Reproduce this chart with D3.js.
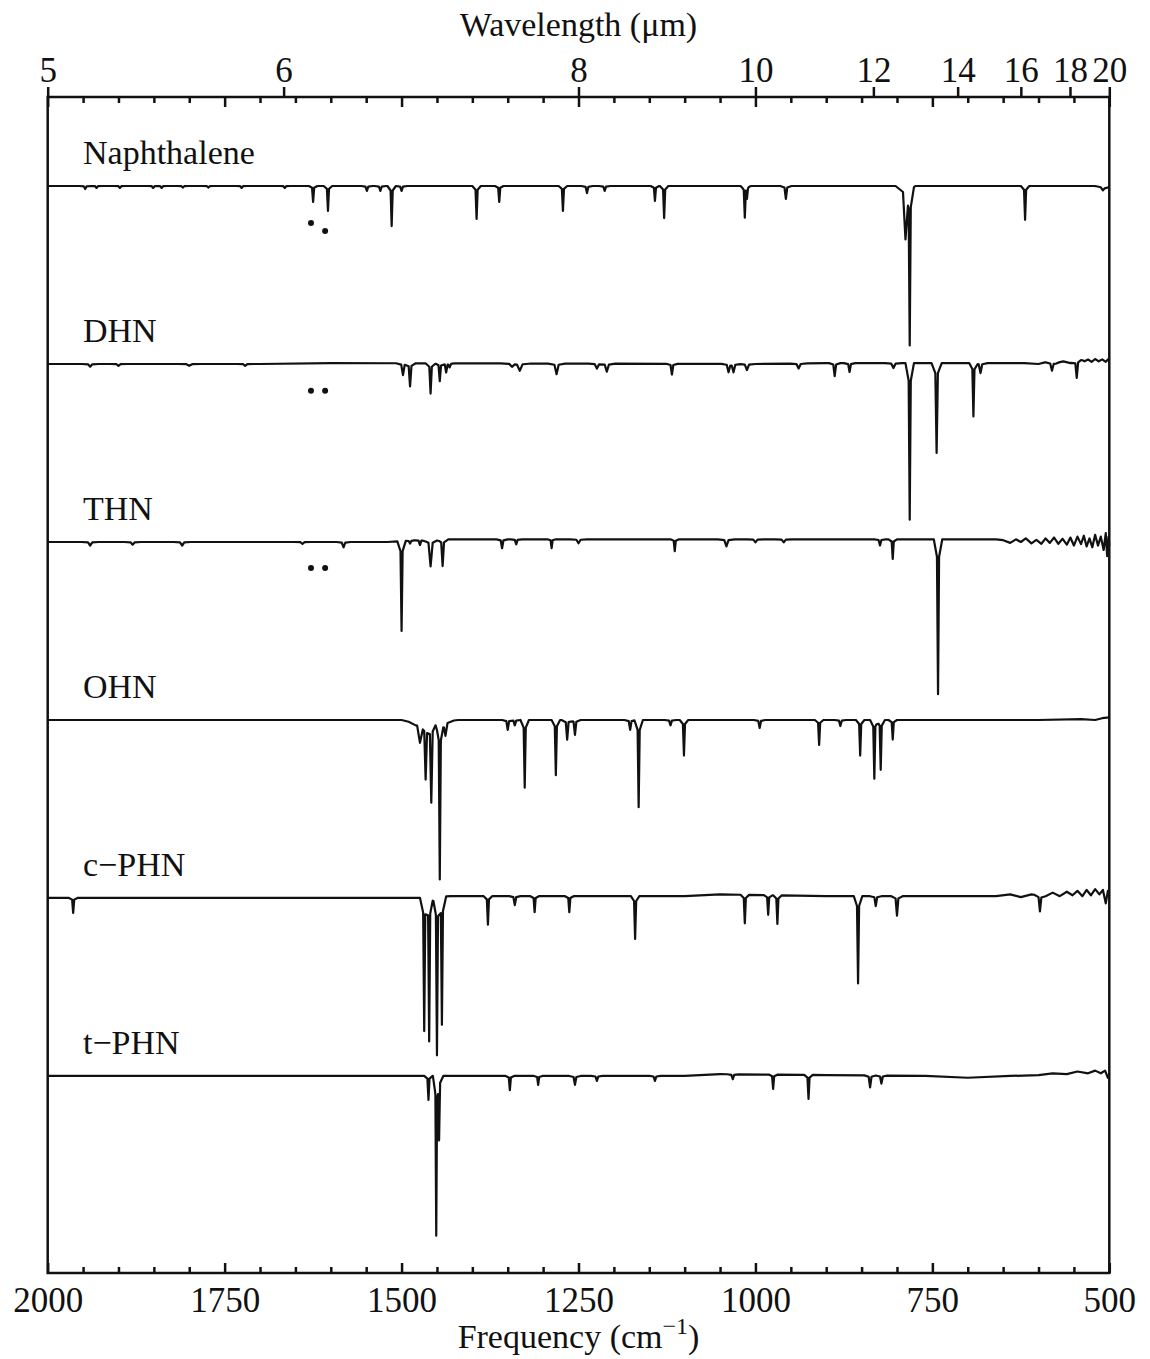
<!DOCTYPE html>
<html>
<head>
<meta charset="utf-8">
<script src="https://cdn.jsdelivr.net/npm/d3@7"></script>
<style>
  html, body { margin: 0; padding: 0; background: #fff; }
  svg text { font-family: "Liberation Serif", "Times New Roman", serif; fill: #111; }
</style>
</head>
<body>
<svg id="chart" width="1150" height="1359"></svg>
<script>
// ---------------- data ----------------
const seriesNames = ["Naphthalene", "DHN", "THN", "OHN", "c\u2212PHN", "t\u2212PHN"];
// track baseline offsets (a.u., one track = 100)
const trackOffsets = [50, 150, 250, 350, 450, 550];

const freqMajorTicks = [2000, 1750, 1500, 1250, 1000, 750, 500];
const wavelengthTicks = [5, 6, 8, 10, 12, 14, 16, 18, 20];

// peaks: [frequency cm-1, depth (a.u.), half width cm-1]
const naphPeaks = [
  [1947, 1.7, 2], [1931, 1.1, 2], [1898, 1.1, 2], [1851, 1.1, 2], [1839, 1.1, 2],
  [1809, 0.9, 2], [1773, 0.9, 2], [1726, 1.1, 2], [1665, 1.1, 2], [1625, 9, 1.5],
  [1604, 14, 1.5], [1549, 2.8, 2], [1530, 2.8, 2], [1514, 22.5, 1.5], [1500, 2.8, 2],
  [1394, 18.5, 1.5], [1362, 9, 1.5], [1272, 14, 1.5], [1238, 4, 2], [1213, 2.8, 2],
  [1142, 8.4, 1.5], [1129, 18, 1.5], [1015, 17.4, 1.5], [1012, 6, 1.5], [957, 7.3, 2],
  [788, 30, 3.5], [782, 87, 1.5], [619, 19, 1.5], [509, 1.7, 3]
];
const naphBase = [[2000, 0], [1000, 0], [520, 0], [505, 1], [500, 0.5]];

const dhnPeaks = [
  [1940, 1.5, 3], [1900, 1, 3], [1800, 1, 4], [1721, 1, 3], [1498, 6.7, 2.5], [1488, 13, 2],
  [1459, 17, 1.8], [1446, 10, 1.8], [1437, 5, 2], [1432, 2, 2], [1344, 1.7, 4], [1333, 4, 4],
  [1281, 6, 3], [1224, 2.8, 3], [1210, 4.5, 3], [1118, 6, 2], [1038, 4.5, 2.5], [1031, 4.5, 2.5],
  [1012, 3.4, 3], [939, 2.8, 3], [888, 7.3, 2], [867, 5, 2], [805, 2.8, 3], [782, 88, 1.5],
  [744, 50.5, 1.8], [692, 30, 1.5], [682, 5.6, 2.5], [581, 4.5, 2.5], [546, 9.5, 2]
];
const dhnBase = [
  [2000, 0], [1700, 0], [1600, -0.5], [1000, 0], [900, -0.5], [620, -0.5], [600, 0], [590, -1],
  [575, -0.5], [565, -1.5], [555, -0.5], [540, -2.5], [535, -1.5], [530, -2.5], [525, -1.2],
  [520, -2.8], [515, -1.5], [510, -2.6], [505, -1.2], [502, -2.5], [500, -1.5]
];

const thnPeaks = [
  [1940, 2, 3], [1880, 1.5, 3], [1810, 2, 3], [1640, 1, 3], [1582, 3, 2.5], [1500, 50.5, 1.5],
  [1488, 1.7, 2], [1474, 2.8, 2], [1459, 15, 3], [1442, 15, 2], [1358, 5, 2], [1338, 2.8, 2],
  [1288, 5, 1.5], [1250, 2.2, 3], [1114, 6.7, 1.5], [1041, 4, 3], [1000, 1.7, 3], [960, 1.7, 3],
  [824, 3.4, 2], [806, 11, 1.5], [742, 87, 1.5]
];
const thnBase = [
  [2000, 0], [1520, 0], [1480, -1], [1440, -1.5], [1000, -1.5], [660, -1.5], [650, -1],
  [640, 0.5], [632, -1.5], [625, 0], [618, -2], [610, 0.8], [603, -1.2], [596, 1], [590, -2],
  [584, 0.5], [578, -2.5], [572, 1], [566, -1.8], [560, 1.5], [555, -2.5], [550, 2], [545, -3],
  [540, 1.2], [536, -3.5], [532, 2.5], [528, -2], [524, 3], [520, -4], [516, 2], [512, -3],
  [508, 4.5], [505, -5], [503, 8], [501, -3], [500, 2]
];

const ohnPeaks = [
  [1474, 11, 4], [1466, 31, 2], [1458, 45, 2], [1446, 88, 1.5], [1438, 8, 3],
  [1350, 5.6, 2], [1340, 3, 2], [1326, 38, 1.5], [1282, 31, 1.5], [1266, 11, 2], [1255, 8.4, 2],
  [1177, 5.6, 2], [1165, 49, 1.5], [1120, 3, 2], [1101, 20, 1.5], [994, 4.5, 2], [910, 14, 1.5],
  [880, 3.4, 2], [852, 20, 1.5], [832, 33, 1.5], [823, 28, 1.5], [806, 11, 1.5]
];
const ohnBase = [[2000, 0], [1500, 0], [1480, 2], [1440, 1], [1420, 0], [600, 0], [540, -0.5], [520, 0], [510, -1], [500, -1.5]];

const cphnPeaks = [
  [1964, 8.4, 1.5], [1468, 75, 1.5], [1461, 81, 1.5], [1450, 89, 1.5], [1443, 72, 1.5],
  [1378, 16, 1.5], [1340, 5, 2], [1312, 9, 1.5], [1263, 9, 1.5], [1170, 24, 1.5], [1015, 16, 1.5],
  [982, 11, 1.5], [969, 16, 1.5], [855, 49, 1.5], [830, 5.6, 2], [800, 11, 2], [598, 9, 2]
];
const cphnBase = [
  [2000, 0], [1480, 0], [1430, -1], [1100, -1], [1050, -2], [900, -1], [700, -1], [660, -1],
  [640, -2], [625, -0.5], [610, -2], [590, -1], [580, -3], [570, -1], [560, -3.5], [552, -1.5],
  [545, -4], [538, -1], [532, -4.5], [526, -1.5], [520, -5], [514, -2], [509, -4.5], [505, 3],
  [502, -4], [500, -1]
];

const tphnPeaks = [
  [1462, 13.5, 1.5], [1451, 88, 1.2], [1447, 34, 1.5], [1347, 8, 1.5], [1307, 5, 1.5],
  [1255, 5, 2], [1224, 2.8, 2], [1142, 2.8, 2], [1032, 2.8, 2], [975, 8, 1.5], [925, 13.5, 1.5],
  [838, 6.7, 2], [822, 4.5, 2]
];
const tphnBase = [
  [2000, 0], [1500, 0], [1100, 0], [1050, -1], [900, -0.5], [760, 0], [700, 1], [640, 0],
  [600, -0.5], [580, -1.5], [560, -1], [545, -2.5], [530, -1.5], [520, -3], [512, -1.5],
  [506, -3], [502, 1], [500, -1]
];

const allPeaks = [naphPeaks, dhnPeaks, thnPeaks, ohnPeaks, cphnPeaks, tphnPeaks];
const allBases = [naphBase, dhnBase, thnBase, ohnBase, cphnBase, tphnBase];

// band markers (dots): [series index, frequency, offset below baseline]
const dotMarks = [
  [0, 1628, 20.8], [0, 1608, 25.3],
  [1, 1628, 15], [1, 1608, 15],
  [2, 1628, 14.6], [2, 1608, 14.6]
];

// ---------------- drawing ----------------
const svg = d3.select("#chart");
const plotLeft = 47.7, plotRight = 1109.3, plotTop = 97, plotBottom = 1273;
const x = d3.scaleLinear().domain([2000, 500]).range([plotLeft, plotRight]);
const y = d3.scaleLinear().domain([0, 660.7]).range([plotTop, plotBottom]);

function buildSpectrum(peaks, base, offset) {
  const pts = new Set([2000, 500]);
  base.forEach(b => pts.add(b[0]));
  peaks.forEach(([f, d, w]) => {
    [f, f - w, f + w, f - 4 * w, f + 4 * w].forEach(v => { if (v >= 500 && v <= 2000) pts.add(v); });
  });
  const xs = Array.from(pts).sort((a, b) => b - a);
  const baseSorted = base.slice().sort((a, b) => a[0] - b[0]);
  const bx = baseSorted.map(b => b[0]), by = baseSorted.map(b => b[1]);
  const baseAt = f => {
    const i = d3.bisectLeft(bx, f);
    if (i <= 0) return by[0];
    if (i >= bx.length) return by[by.length - 1];
    const t = (f - bx[i - 1]) / (bx[i] - bx[i - 1]);
    return by[i - 1] + t * (by[i] - by[i - 1]);
  };
  return xs.map(f => {
    let v = baseAt(f);
    peaks.forEach(([pf, d, w]) => {
      const dist = Math.abs(f - pf);
      if (dist < w) v += d * 0.85 * (1 - dist / w);
      if (dist < 4 * w) v += d * 0.15 * (1 - dist / (4 * w));
    });
    return [f, offset + v];
  });
}

const line = d3.line().x(d => x(d[0])).y(d => y(d[1]));

const g = svg.append("g");
allPeaks.forEach((peaks, i) => {
  const data = buildSpectrum(peaks, allBases[i], trackOffsets[i]);
  g.append("path")
    .datum(data)
    .attr("d", line)
    .attr("fill", "none")
    .attr("stroke", "#111")
    .attr("stroke-width", 2.2)
    .attr("stroke-linejoin", "round");
});

// series names
svg.selectAll("text.sname")
  .data(seriesNames)
  .enter().append("text")
  .attr("class", "sname")
  .attr("x", 83)
  .attr("y", (d, i) => y(trackOffsets[i]) - 22)
  .attr("font-size", 34)
  .text(d => d);

// dots
svg.selectAll("circle.dot")
  .data(dotMarks)
  .enter().append("circle")
  .attr("cx", d => x(d[1]))
  .attr("cy", d => y(trackOffsets[d[0]] + d[2]))
  .attr("r", 3)
  .attr("fill", "#111");

// frame
svg.append("rect")
  .attr("x", plotLeft).attr("y", plotTop)
  .attr("width", plotRight - plotLeft).attr("height", plotBottom - plotTop)
  .attr("fill", "none").attr("stroke", "#111").attr("stroke-width", 2.5);

const minorTicks = d3.range(550, 2000, 50).filter(v => v % 250 !== 0);

// bottom axis: inward ticks with labels
const bottomMajor = svg.append("g").attr("transform", `translate(0,${plotBottom})`)
  .call(d3.axisBottom(x).tickValues(freqMajorTicks).tickSizeInner(-10).tickSizeOuter(0)
    .tickPadding(14).tickFormat(d3.format("d")));
const bottomMinor = svg.append("g").attr("transform", `translate(0,${plotBottom})`)
  .call(d3.axisBottom(x).tickValues(minorTicks).tickSizeInner(-6).tickSizeOuter(0).tickFormat(""));

// top axis: frequency ticks pointing inward (no labels)
const topMajorF = svg.append("g").attr("transform", `translate(0,${plotTop})`)
  .call(d3.axisTop(x).tickValues(freqMajorTicks).tickSizeInner(-10).tickSizeOuter(0).tickFormat(""));
const topMinorF = svg.append("g").attr("transform", `translate(0,${plotTop})`)
  .call(d3.axisTop(x).tickValues(minorTicks).tickSizeInner(-6).tickSizeOuter(0).tickFormat(""));
// top axis: wavelength ticks pointing outward with labels
const topW = svg.append("g").attr("transform", `translate(0,${plotTop})`)
  .call(d3.axisTop(x).tickValues(wavelengthTicks.map(l => 10000 / l)).tickSizeInner(10).tickSizeOuter(0)
    .tickPadding(5).tickFormat(f => d3.format("d")(Math.round(10000 / f))));

[bottomMajor, bottomMinor, topMajorF, topMinorF, topW].forEach(a => {
  a.select(".domain").remove();
  a.selectAll(".tick line").attr("stroke", "#111").attr("stroke-width", 2.5);
  a.selectAll(".tick text").attr("font-size", 35).attr("fill", "#111")
    .attr("font-family", '"Liberation Serif", "Times New Roman", serif');
});

// axis titles
svg.append("text")
  .attr("x", (plotLeft + plotRight) / 2).attr("y", 36)
  .attr("text-anchor", "middle").attr("font-size", 34)
  .text("Wavelength (\u03bcm)");

const ft = svg.append("text")
  .attr("x", (plotLeft + plotRight) / 2).attr("y", 1348)
  .attr("text-anchor", "middle").attr("font-size", 34);
ft.append("tspan").text("Frequency (cm");
ft.append("tspan").attr("font-size", 24).attr("dy", -14).text("\u22121");
ft.append("tspan").attr("dy", 14).text(")");
</script>
</body>
</html>
